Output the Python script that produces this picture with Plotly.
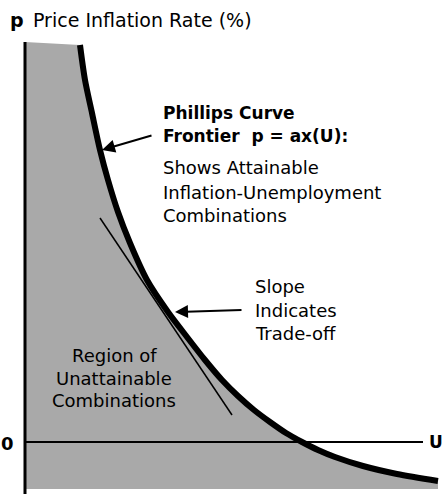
import plotly.graph_objects as go

# Phillips curve frontier (U = unemployment units, p = inflation units)
curve_U = [5.5, 6.0, 6.7, 7.5, 8.3, 9.3, 10.5, 12.2, 14.3, 16.2, 18.0, 19.7, 21.3, 22.9, 24.5, 26.1, 27.7, 29.3, 31.0, 33.8, 37.2, 41.3]
curve_p = [39.7, 36.2, 32.9, 29.2, 26.2, 23.0, 19.9, 16.2, 13.0, 10.5, 8.2, 6.2, 4.6, 3.2, 2.0, 0.9, 0.0, -0.8, -1.5, -2.4, -3.2, -3.9]

# tangent (slope) line
tan_U = [7.5, 20.7]
tan_p = [22.4, 2.7]

# axes extents
axis_top = 40.0
axis_bottom = -5.3
haxis_end = 39.8
fill_bottom = -4.7

FONT = "DejaVu Sans"
fig = go.Figure()

# shaded unattainable region
reg_U = [0] + curve_U + [curve_U[-1], 0, 0]
reg_p = [axis_top] + curve_p + [fill_bottom, fill_bottom, axis_top]
fig.add_trace(go.Scatter(x=reg_U, y=reg_p, fill="toself", fillcolor="#a9a9a9",
                         mode="lines", line=dict(width=0), hoverinfo="skip"))

# axes
fig.add_trace(go.Scatter(x=[0, 0], y=[axis_top, axis_bottom], mode="lines",
                         line=dict(color="black", width=3)))
fig.add_trace(go.Scatter(x=[0, haxis_end], y=[0, 0], mode="lines",
                         line=dict(color="black", width=2)))
# tangent
fig.add_trace(go.Scatter(x=tan_U, y=tan_p, mode="lines",
                         line=dict(color="black", width=1.5)))
# curve
fig.add_trace(go.Scatter(x=curve_U, y=curve_p, mode="lines",
                         line=dict(color="black", width=6, shape="spline", smoothing=0.8)))


def px(x):
    return (x - 25) / 10.0


def py(y):
    return (442 - y) / 10.0


def txt(x, y, s, size=18, bold=False, anchor="left"):
    if bold:
        s = "<b>" + s + "</b>"
    fig.add_annotation(x=px(x), y=py(y), text=s, showarrow=False, xanchor=anchor,
                       yanchor="middle", font=dict(family=FONT, size=size, color="black"))


txt(8, 20, "p", size=19, bold=True)
txt(31, 20, "Price Inflation Rate (%)", size=19)
txt(161, 113, "Phillips Curve", size=17, bold=True)
txt(161, 136, "Frontier  p = ax(U):", size=17, bold=True)
txt(161, 167, "Shows Attainable")
txt(161, 192, "Inflation-Unemployment")
txt(161, 215, "Combinations")
txt(253, 286, "Slope")
txt(253, 310, "Indicates")
txt(253, 333, "Trade-off")
txt(114, 355, "Region of", anchor="center")
txt(114, 378, "Unattainable", anchor="center")
txt(114, 400, "Combinations", anchor="center")
txt(7, 443, "0", bold=True, anchor="center")
txt(436, 442, "U", size=17, bold=True, anchor="center")

# arrows
for (x0, y0, x1, y1) in [(153, 135, 102, 150), (243, 310, 175, 312)]:
    fig.add_annotation(x=px(x1), y=py(y1), ax=px(x0), ay=py(y0), axref="x", ayref="y",
                       xref="x", yref="y", text="", showarrow=True, arrowhead=2,
                       arrowsize=1.3, arrowwidth=2, arrowcolor="black")

fig.update_layout(width=445, height=494, margin=dict(l=0, r=0, t=0, b=0),
                  plot_bgcolor="white", paper_bgcolor="white", showlegend=False,
                  hovermode=False)
fig.update_xaxes(range=[px(0), px(445)], visible=False)
fig.update_yaxes(range=[py(494), py(0)], visible=False)
fig.write_html("out.html", config={"displayModeBar": False},
               post_script="document.body.style.margin='0px';")
